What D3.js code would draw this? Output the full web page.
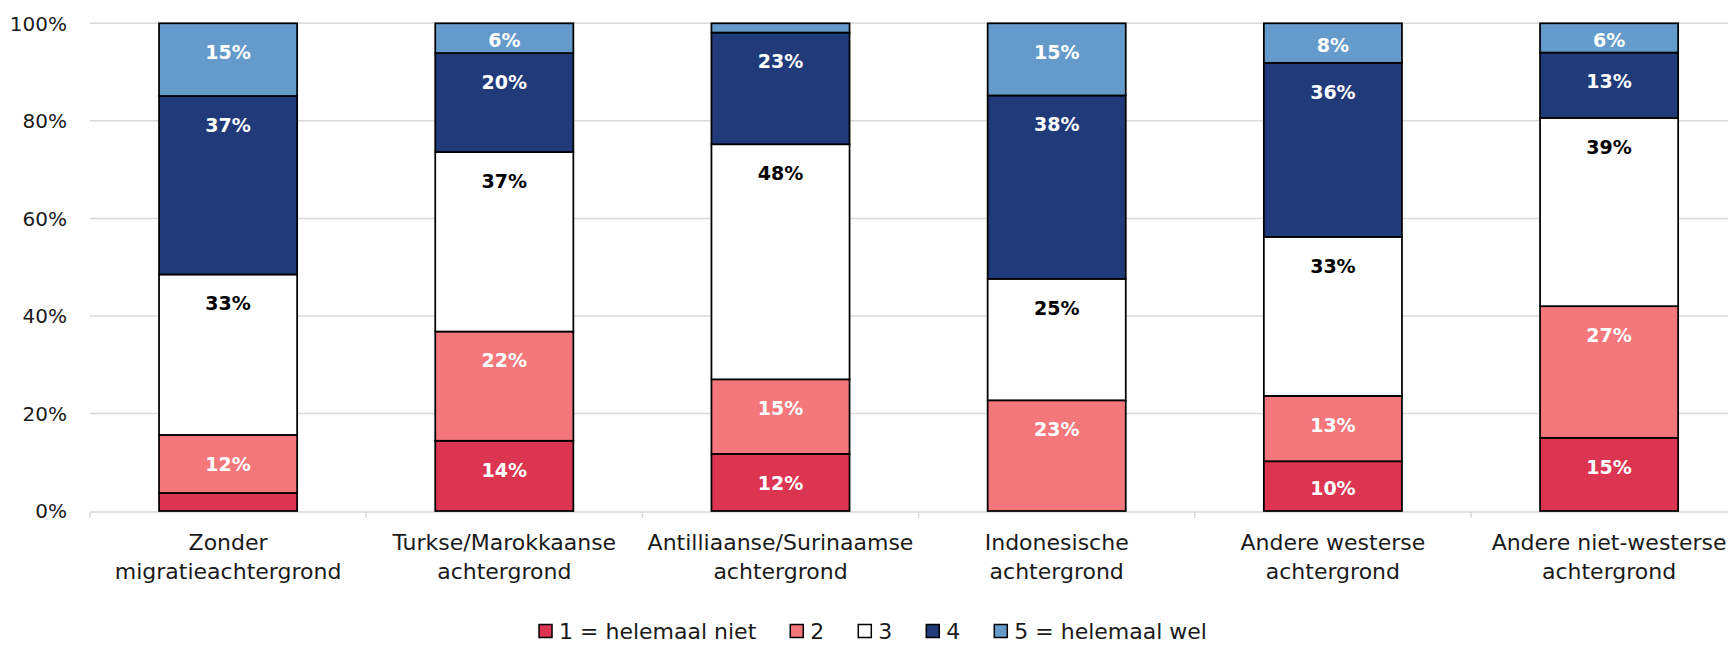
<!DOCTYPE html>
<html>
<head>
<meta charset="utf-8">
<script src="https://cdn.jsdelivr.net/npm/d3@7"></script>
<style>
  body { margin: 0; background: #fff; overflow: hidden; }
  text { font-family: "DejaVu Sans", sans-serif; }
</style>
</head>
<body>
<svg class="stacked-chart"></svg>
<script>
// categories (two-line labels)
var categories = [
  ["Zonder", "migratieachtergrond"],
  ["Turkse/Marokkaanse", "achtergrond"],
  ["Antilliaanse/Surinaamse", "achtergrond"],
  ["Indonesische", "achtergrond"],
  ["Andere westerse", "achtergrond"],
  ["Andere niet-westerse", "achtergrond"]
];

// series (percent)
var level1 = [3.7, 14.4, 11.7, 0, 10.2, 15.0];
var level2 = [11.9, 22.4, 15.3, 22.7, 13.4, 27.0];
var level3 = [32.9, 36.8, 48.2, 24.9, 32.6, 38.6];
var level4 = [36.6, 20.3, 22.9, 37.6, 35.7, 13.4];
var level5 = [14.9, 6.1, 1.9, 14.8, 8.1, 6.0];

var seriesNames = ["1 = helemaal niet", "2", "3", "4", "5 = helemaal wel"];
var seriesColors = ["#dc3552", "#f4777b", "#ffffff", "#203a7a", "#659bcb"];
var labelColors = ["#fff", "#fff", "#000", "#fff", "#fff"];

var yTicks = [0, 20, 40, 60, 80, 100];

function drawChart(){
  var width = 1728, height = 646;
  var svg = d3.select(".stacked-chart")
    .attr("width", width)
    .attr("height", height);

  var left = 90, step = 276.2;
  var plotTop = 23.3, plotBottom = 511;

  // build rows for d3.stack
  var allSeries = [level1, level2, level3, level4, level5];
  var rows = categories.map(function(c, i){
    var r = {key: i};
    for(var s = 0; s < allSeries.length; s++){
      r["s" + s] = allSeries[s][i];
    }
    return r;
  });
  var keys = allSeries.map(function(d, s){ return "s" + s; });
  var stacked = d3.stack().keys(keys)(rows);

  var xScale = d3.scaleBand()
    .domain(d3.range(categories.length))
    .range([left, left + step * categories.length])
    .paddingInner(0.5)
    .paddingOuter(0.25);

  var yScale = d3.scaleLinear()
    .domain([0, 100])
    .range([plotBottom, plotTop]);

  // gridlines
  var gGrid = svg.append("g");
  gGrid.selectAll("line")
    .data(yTicks.filter(function(d){ return d > 0; }))
    .enter()
    .append("line")
    .attr("x1", left)
    .attr("x2", width)
    .attr("y1", function(d){ return yScale(d); })
    .attr("y2", function(d){ return yScale(d); })
    .attr("stroke", "#d9d9d9")
    .attr("stroke-width", 1.5);

  // y tick labels
  var gYAxis = svg.append("g");
  gYAxis.selectAll("text")
    .data(yTicks)
    .enter()
    .append("text")
    .attr("x", 67)
    .attr("y", function(d){ return yScale(d); })
    .attr("dy", "0.36em")
    .attr("text-anchor", "end")
    .attr("font-size", 20)
    .attr("fill", "#1a1a1a")
    .text(function(d){ return d + "%"; });

  // x axis line with ticks at band edges
  var gXAxis = svg.append("g");
  gXAxis.append("line")
    .attr("x1", left)
    .attr("x2", width)
    .attr("y1", plotBottom + 1)
    .attr("y2", plotBottom + 1)
    .attr("stroke", "#d9d9d9")
    .attr("stroke-width", 1.5);
  gXAxis.selectAll(".tick")
    .data(d3.range(categories.length + 1))
    .enter()
    .append("line")
    .attr("class", "tick")
    .attr("x1", function(i){ return left + step * i; })
    .attr("x2", function(i){ return left + step * i; })
    .attr("y1", plotBottom + 1)
    .attr("y2", plotBottom + 7)
    .attr("stroke", "#d9d9d9")
    .attr("stroke-width", 1.5);

  // category labels
  var catLabels = gXAxis.selectAll(".cat")
    .data(categories)
    .enter()
    .append("text")
    .attr("class", "cat")
    .attr("text-anchor", "middle")
    .attr("font-size", 22)
    .attr("fill", "#1a1a1a");
  catLabels.each(function(d, i){
    var cx = xScale(i) + xScale.bandwidth() / 2;
    var t = d3.select(this);
    d.forEach(function(line, j){
      t.append("tspan")
        .attr("x", cx)
        .attr("y", 542 + j * 29)
        .attr("dy", "0.36em")
        .text(line);
    });
  });

  // bars
  var gBars = svg.append("g");
  var layers = gBars.selectAll("g")
    .data(stacked)
    .enter()
    .append("g")
    .attr("fill", function(d, s){ return seriesColors[s]; });

  layers.selectAll("rect")
    .data(function(d){ return d; })
    .enter()
    .append("rect")
    .attr("x", function(d){ return xScale(d.data.key); })
    .attr("width", xScale.bandwidth())
    .attr("y", function(d){ return yScale(d[1]); })
    .attr("height", function(d){ return yScale(d[0]) - yScale(d[1]); })
    .attr("stroke", "#000")
    .attr("stroke-width", function(d){ return d[1] - d[0] > 0 ? 1.75 : 0; });

  // value labels near the top of each segment
  layers.each(function(layer, s){
    d3.select(this).selectAll("text")
      .data(layer.filter(function(d){ return d[1] - d[0] >= 5; }))
      .enter()
      .append("text")
      .attr("x", function(d){ return xScale(d.data.key) + xScale.bandwidth() / 2; })
      .attr("y", function(d){
        var h = yScale(d[0]) - yScale(d[1]);
        return yScale(d[1]) + Math.min(29, h / 2 + 2);
      })
      .attr("dy", "0.36em")
      .attr("text-anchor", "middle")
      .attr("font-size", 19)
      .attr("font-weight", "bold")
      .attr("fill", labelColors[s])
      .text(function(d){ return Math.round(d[1] - d[0]) + "%"; });
  });

  // legend
  var gLegend = svg.append("g");
  var items = gLegend.selectAll("g")
    .data(seriesNames)
    .enter()
    .append("g");
  items.append("rect")
    .attr("width", 13)
    .attr("height", 13)
    .attr("y", -6.5)
    .attr("fill", function(d, i){ return seriesColors[i]; })
    .attr("stroke", "#000")
    .attr("stroke-width", 1.5);
  items.append("text")
    .attr("x", 20)
    .attr("dy", "0.36em")
    .attr("font-size", 22)
    .attr("fill", "#1a1a1a")
    .text(function(d){ return d; });

  var legendX = 0;
  var gap = 34;
  items.each(function(){
    var w = 20 + d3.select(this).select("text").node().getComputedTextLength();
    d3.select(this).attr("transform", "translate(" + legendX + ",0)");
    legendX += w + gap;
  });
  var legendWidth = legendX - gap;
  gLegend.attr("transform", "translate(" + (873 - legendWidth / 2) + ",631)");
}

drawChart();
</script>
</body>
</html>
